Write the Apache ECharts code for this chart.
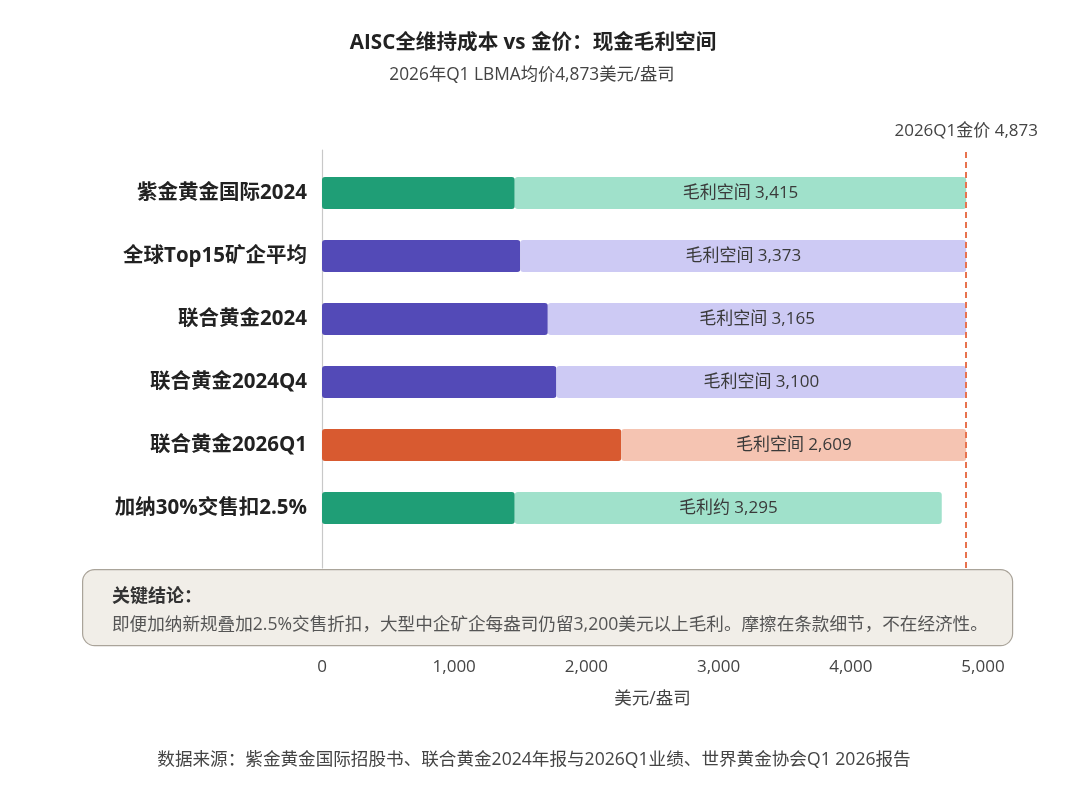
<!DOCTYPE html>
<html><head><meta charset="utf-8">
<script src="https://cdn.jsdelivr.net/npm/echarts@6/dist/echarts.min.js"></script>
<style>html,body{margin:0;padding:0;background:#fff}#c{width:1080px;height:810px}</style>
</head><body><div id="c"></div>
<script>
const categories = ['紫金黄金国际2024','全球Top15矿企平均','联合黄金2024','联合黄金2024Q4','联合黄金2026Q1','加纳30%交售扣2.5%'];
const aiscValues = [1458, 1500, 1708, 1773, 2264, 1458];
const marginValues = [3415, 3373, 3165, 3100, 2609, 3230];
const marginLabels = ['毛利空间 3,415','毛利空间 3,373','毛利空间 3,165','毛利空间 3,100','毛利空间 2,609','毛利约 3,295'];
const darkColors = ['#1f9e76','#534ab7','#534ab7','#534ab7','#d85a30','#1f9e76'];
const lightColors = ['#a0e1cb','#cdcaf4','#cdcaf4','#cdcaf4','#f5c4b2','#a0e1cb'];
const goldPrice = 4873;
const xTicks = [0, 1000, 2000, 3000, 4000, 5000];

const FONT = '"Open Sans","Noto Sans CJK SC",sans-serif';
const chart = echarts.init(document.getElementById('c'));
chart.setOption({
  animation: false,
  textStyle: { fontFamily: FONT },
  title: [
    { text: 'AISC全维持成本 vs 金价：现金毛利空间', left: 528, top: 28, textAlign: 'center',
      textStyle: { fontSize: 20.6, fontWeight: 'bold', color: '#222', fontFamily: FONT } },
    { text: '2026年Q1 LBMA均价4,873美元/盎司', left: 527, top: 61, textAlign: 'center',
      textStyle: { fontSize: 17.3, fontWeight: 'normal', color: '#444', fontFamily: FONT } },
    { text: '数据来源：紫金黄金国际招股书、联合黄金2024年报与2026Q1业绩、世界黄金协会Q1 2026报告', left: 529, top: 746, textAlign: 'center',
      textStyle: { fontSize: 17.6, fontWeight: 'normal', color: '#444', fontFamily: FONT } }
  ],
  grid: [
    { left: 322, right: 97, top: 161.5, height: 378 },
    { left: 322, right: 97, top: 150, height: 418 }
  ],
  xAxis: [
    { gridIndex: 0, type: 'value', min: 0, max: 5000, show: false },
    { gridIndex: 1, type: 'value', min: 0, max: 5000, interval: 1000,
      axisLine: { show: false }, axisTick: { show: false }, splitLine: { show: false },
      axisLabel: { margin: 91, fontSize: 17, color: '#444', fontFamily: FONT,
        formatter: v => v.toLocaleString('en-US') },
      name: '美元/盎司', nameLocation: 'middle', nameGap: 122,
      nameTextStyle: { fontSize: 17.5, color: '#444', fontFamily: FONT } }
  ],
  yAxis: [
    { gridIndex: 0, type: 'category', data: categories, inverse: true,
      axisLine: { show: false }, axisTick: { show: false },
      axisLabel: { margin: 15, fontSize: 20.5, fontWeight: 'bold', color: '#222', fontFamily: FONT } },
    { gridIndex: 1, type: 'value', min: 0, max: 1, show: true,
      axisLine: { show: true, onZero: false, lineStyle: { color: '#c8c8c8', width: 1.2 } },
      axisTick: { show: false }, axisLabel: { show: false }, splitLine: { show: false } }
  ],
  series: [
    { type: 'bar', name: 'AISC', xAxisIndex: 0, yAxisIndex: 0, stack: 'total', barWidth: 32,
      data: aiscValues.map((v, i) => ({ value: v, itemStyle: { color: darkColors[i] } })),
      itemStyle: { borderRadius: 3 } },
    { type: 'bar', name: '毛利', xAxisIndex: 0, yAxisIndex: 0, stack: 'total', barWidth: 32,
      data: marginValues.map((v, i) => ({ value: v, itemStyle: { color: lightColors[i] } })),
      itemStyle: { borderRadius: 3 },
      label: { show: true, position: 'inside', fontSize: 17, color: '#3a3a3a', fontFamily: FONT,
        formatter: p => marginLabels[p.dataIndex] } },
    { type: 'line', xAxisIndex: 1, yAxisIndex: 1, data: [], symbol: 'none',
      markLine: { silent: true, symbol: 'none',
        lineStyle: { color: '#e8734f', width: 2, type: [6, 4] },
        label: { show: true, position: 'end', distance: 10, fontSize: 17, color: '#444', fontFamily: FONT,
          formatter: '2026Q1金价 4,873' },
        data: [{ xAxis: goldPrice }] } }
  ],
  graphic: [
    { type: 'rect', left: 82, top: 569, z: 10,
      shape: { width: 930, height: 76, r: 12 },
      style: { fill: '#f1eee8', stroke: '#aaa49a', lineWidth: 1.2 } },
    { type: 'text', left: 112, top: 588, z: 11,
      style: { text: '关键结论：', font: 'bold 18px ' + FONT, fill: '#333' } },
    { type: 'text', left: 112, top: 616, z: 11,
      style: { text: '即便加纳新规叠加2.5%交售折扣，大型中企矿企每盎司仍留3,200美元以上毛利。摩擦在条款细节，不在经济性。',
        font: '17.6px ' + FONT, fill: '#555' } }
  ]
});
</script></body></html>
